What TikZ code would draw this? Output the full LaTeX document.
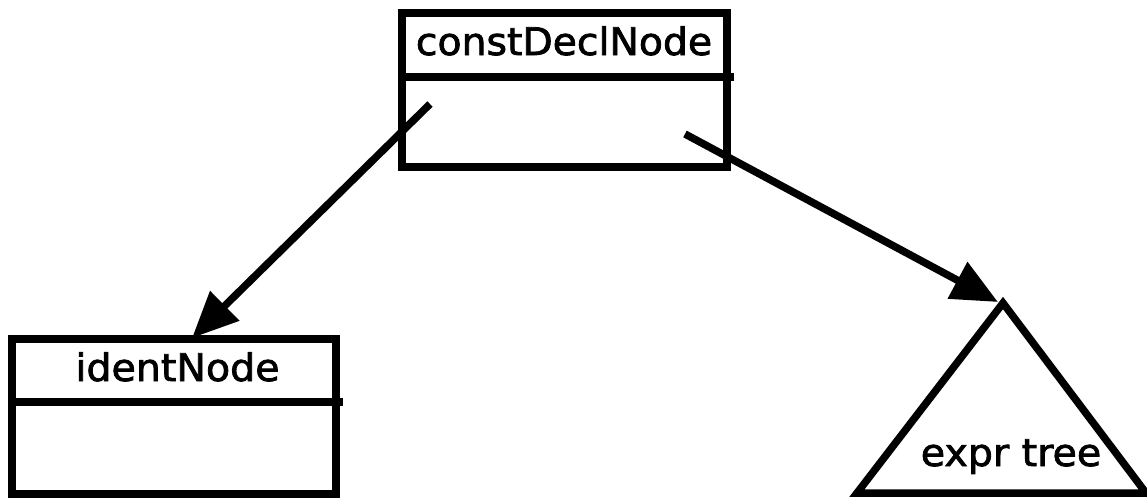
\documentclass[tikz,border=0pt]{standalone}
\usepackage{fontspec}
\setmainfont{DejaVu Sans}
\newfontfamily\lblfont[FakeBold=2]{DejaVu Sans}
\usetikzlibrary{arrows.meta}
\begin{document}
\begin{tikzpicture}[x=0.5pt,y=-0.5pt,
  thick line/.style={line width=3.75pt},
  boxnode/.style={draw,thick line,rectangle,inner sep=0pt},
  lbl/.style={inner sep=0pt,anchor=base,font=\lblfont\fontsize{19}{21}\selectfont},
  conn/.style={thick line,-{Triangle[length=23pt,width=20pt]}}]
\useasboundingbox (0,0) rectangle (1147,500);
% constDeclNode box
\node[boxnode,minimum width=162.5pt,minimum height=77pt] (cbox) at (564.5,90) {};
\coordinate (cdl) at (402,77);
\coordinate (cdr) at (734,77);
\draw[thick line] (cdl) -- (cdr);
\node[lbl] (ctext) at (564,55) {\scalebox{1.035}[1]{constDeclNode}};
% identNode box
\node[boxnode,minimum width=162pt,minimum height=77.5pt] (ibox) at (174,416.5) {};
\coordinate (idl) at (12,402);
\coordinate (idr) at (343,402);
\draw[thick line] (idl) -- (idr);
\node[lbl] (itext) at (177.5,381) {\scalebox{1.04}[1]{identNode}};
% expr tree triangle
\coordinate (etop) at (1003,303);
\coordinate (ebl) at (857,493);
\coordinate (ebr) at (1146,493);
\draw[thick line,line join=miter] (etop) -- (ebl) -- (ebr) -- cycle;
\node[lbl] (etext) at (1011,466) {\scalebox{1.04}[1]{expr tree}};
% connectors
\coordinate (s1) at (430,104);
\coordinate (t1) at (192,338);
\coordinate (s2) at (685,134);
\coordinate (t2) at (998,302);
\draw[conn] (s1) -- (t1);
\draw[conn] (s2) -- (t2);
\end{tikzpicture}
\end{document}
